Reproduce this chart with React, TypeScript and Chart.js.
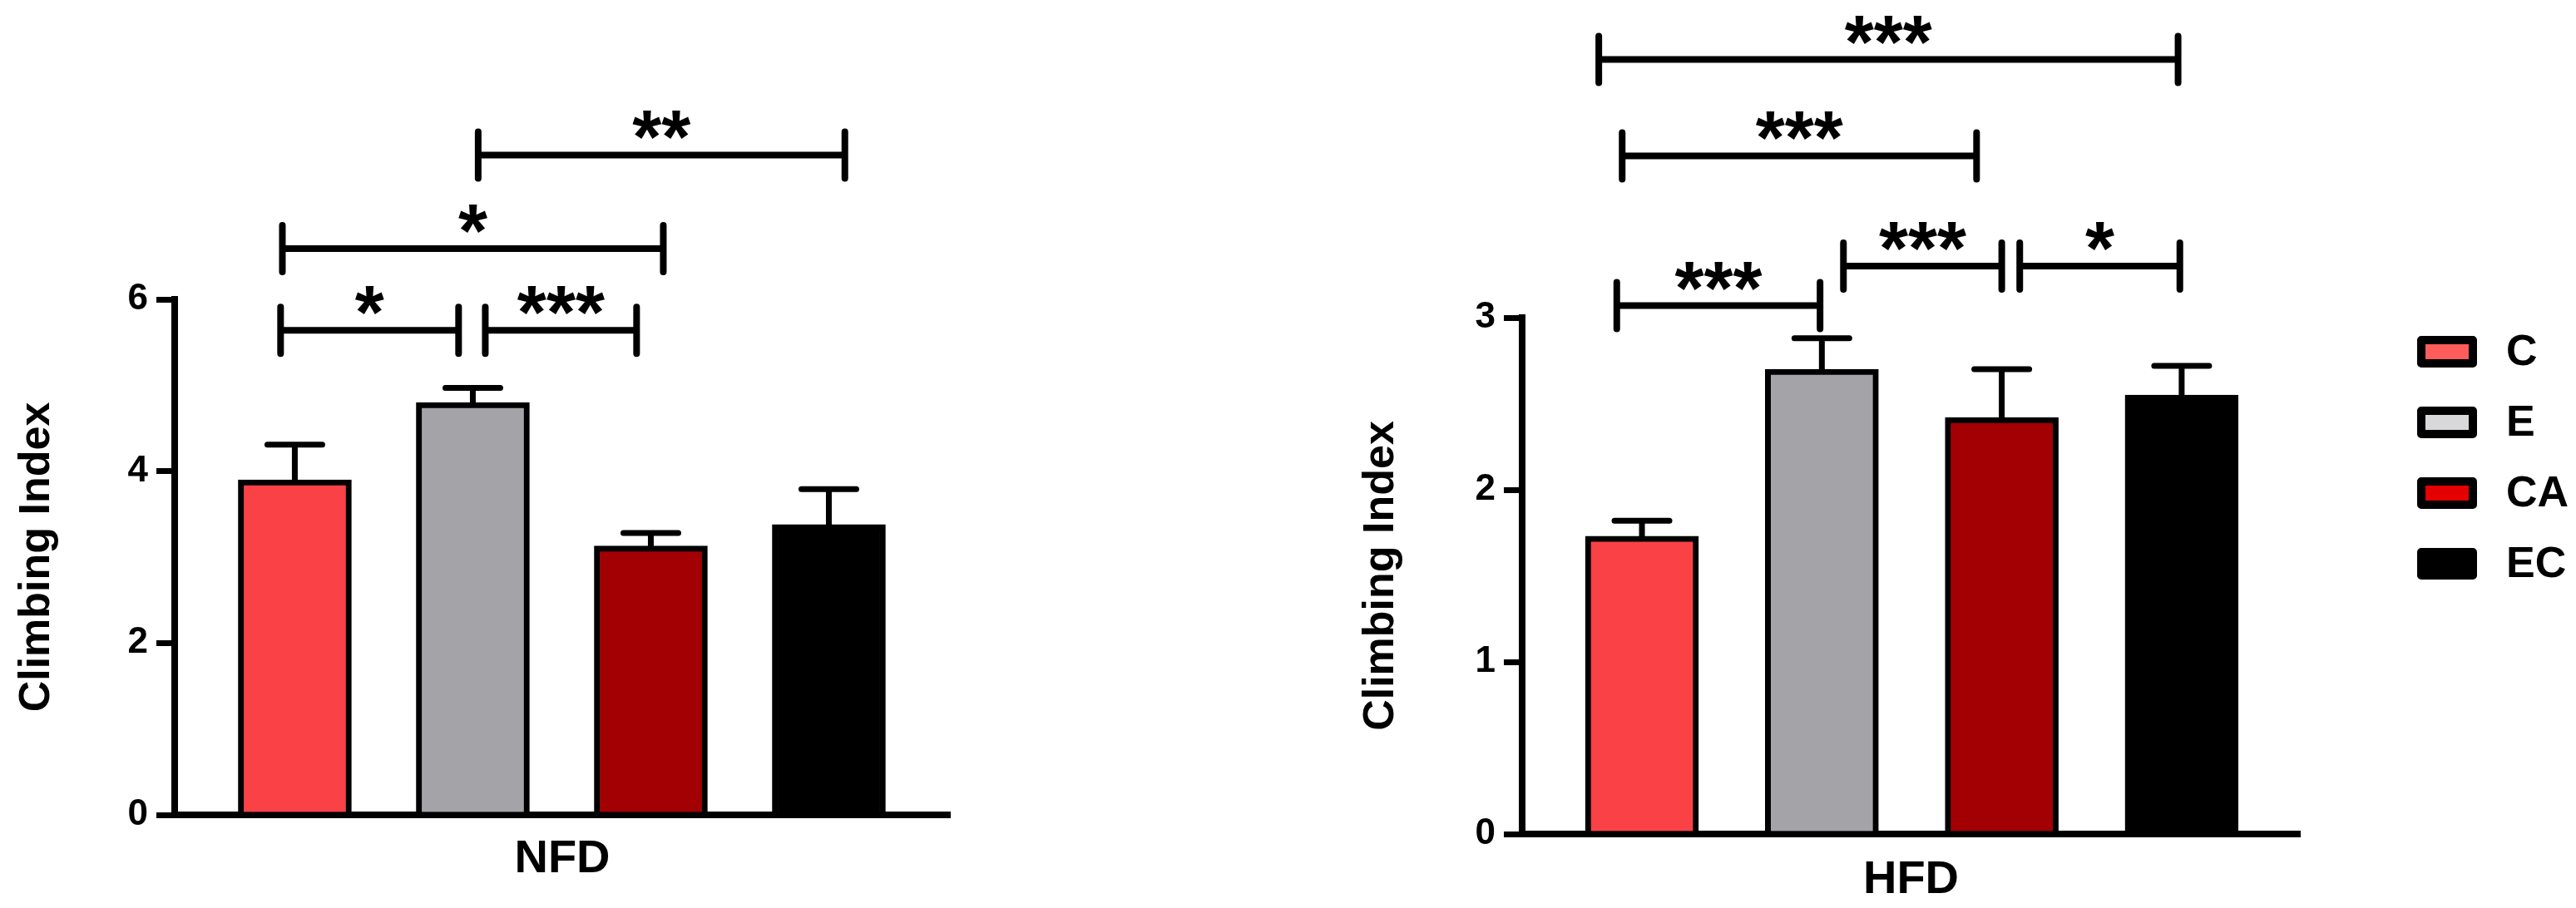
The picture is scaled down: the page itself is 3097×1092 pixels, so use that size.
import React, { useEffect, useRef } from 'react';
import { Chart, registerables } from 'chart.js';

Chart.register(...registerables);

// ---------- data ----------
const groups = ['C', 'E', 'CA', 'EC'];
const barColors = ['#f94146', '#a4a3a8', '#a30003', '#000000'];
const legendColors = ['#ff5c5c', '#d8d8da', '#e40000', '#000000'];

const nfdTitle = 'NFD';
const nfdMeans = [3.9, 4.8, 3.13, 3.38];
const nfdErrors = [0.41, 0.17, 0.15, 0.41];
const nfdTicks = [0, 2, 4, 6];
const nfdBracketStart = [0.92, 2.07, 0.93, 2.03];
const nfdBracketEnd = [1.92, 2.92, 3.07, 4.09];
const nfdBracketLevel = [5.64, 5.64, 6.59, 7.68];
const nfdBracketLabel = ['*', '***', '*', '**'];

const hfdTitle = 'HFD';
const hfdMeans = [1.73, 2.7, 2.42, 2.55];
const hfdErrors = [0.09, 0.18, 0.28, 0.17];
const hfdTicks = [0, 1, 2, 3];
const hfdBracketStart = [0.86, 2.12, 3.1, 0.89, 0.76];
const hfdBracketEnd = [1.99, 3.0, 3.99, 2.86, 3.98];
const hfdBracketLevel = [3.07, 3.3, 3.3, 3.94, 4.5];
const hfdBracketLabel = ['***', '***', '*', '***', '***'];

const yTitle = 'Climbing Index';
const FONT = '"Liberation Sans", Arial, Helvetica, sans-serif';

// ---------- plugins ----------
const errorBarPlugin = {
  id: 'errorBars',
  afterDatasetsDraw(chart: any, _args: any, opts: any) {
    const { ctx } = chart;
    const y = chart.scales.y;
    const meta = chart.getDatasetMeta(0);
    ctx.save();
    ctx.strokeStyle = '#000';
    ctx.lineWidth = 7;
    ctx.lineCap = 'round';
    meta.data.forEach((el: any, i: number) => {
      const top = y.getPixelForValue(opts.means[i] + opts.errors[i]);
      ctx.beginPath();
      ctx.moveTo(el.x, el.y);
      ctx.lineTo(el.x, top);
      ctx.moveTo(el.x - 33, top);
      ctx.lineTo(el.x + 33, top);
      ctx.stroke();
    });
    ctx.restore();
  },
};

const bracketPlugin = {
  id: 'brackets',
  afterDraw(chart: any, _args: any, opts: any) {
    const { ctx } = chart;
    const { x, y } = chart.scales;
    ctx.save();
    ctx.strokeStyle = '#000';
    ctx.fillStyle = '#000';
    ctx.lineWidth = 8;
    ctx.lineCap = 'round';
    ctx.font = `bold 90px ${FONT}`;
    ctx.textAlign = 'center';
    ctx.textBaseline = 'alphabetic';
    opts.start.forEach((s: number, i: number) => {
      const x1 = x.getPixelForValue(s);
      const x2 = x.getPixelForValue(opts.end[i]);
      const yy = y.getPixelForValue(opts.level[i]);
      const h = opts.tick;
      ctx.beginPath();
      ctx.moveTo(x1, yy);
      ctx.lineTo(x2, yy);
      ctx.moveTo(x1, yy - h);
      ctx.lineTo(x1, yy + h);
      ctx.moveTo(x2, yy - h);
      ctx.lineTo(x2, yy + h);
      ctx.stroke();
      ctx.fillText(opts.label[i], (x1 + x2) / 2, yy + 10);
    });
    ctx.restore();
  },
};

const legendPlugin = {
  id: 'sideLegend',
  afterDraw(chart: any, _args: any, opts: any) {
    if (!opts.show) return;
    const { ctx, chartArea } = chart;
    const bx = chartArea.right + 146;
    const bw = 62;
    const bh = 28;
    ctx.save();
    ctx.font = `bold 52px ${FONT}`;
    ctx.textAlign = 'left';
    ctx.textBaseline = 'middle';
    groups.forEach((g, i) => {
      const cy = 423 + i * 85;
      ctx.beginPath();
      ctx.lineJoin = 'round';
      ctx.rect(bx, cy - bh / 2, bw, bh);
      ctx.fillStyle = legendColors[i];
      ctx.fill();
      ctx.lineWidth = 10;
      ctx.strokeStyle = '#000';
      ctx.stroke();
      ctx.fillStyle = '#000';
      ctx.fillText(g, bx + bw + 40, cy + 2);
    });
    ctx.restore();
  },
};

// ---------- chart config ----------
function makeConfig(p: any) {
  return {
    type: 'bar',
    data: {
      datasets: [
        {
          data: p.means.map((m: number, i: number) => ({ x: i + 1, y: m })),
          backgroundColor: barColors,
          borderColor: '#000',
          borderWidth: 7,
          borderSkipped: 'start',
          barThickness: 136,
        },
      ],
    },
    options: {
      responsive: false,
      animation: false,
      devicePixelRatio: 1,
      layout: { padding: p.padding },
      plugins: {
        legend: { display: false },
        tooltip: { enabled: false },
        errorBars: { means: p.means, errors: p.errors },
        brackets: {
          start: p.bStart,
          end: p.bEnd,
          level: p.bLevel,
          label: p.bLabel,
          tick: 28,
        },
        sideLegend: { show: p.legend },
      },
      scales: {
        x: {
          type: 'linear',
          offset: false,
          min: p.xMin,
          max: p.xMax,
          grid: { display: false, offset: false },
          border: { display: true, color: '#000', width: 8 },
          ticks: { display: false },
          title: {
            display: true,
            text: p.xTitle,
            color: '#000',
            font: { family: FONT, size: 56, weight: 'bold' },
            padding: p.xTitlePad,
          },
          afterFit: (s: any) => {
            s.height = p.xHeight;
          },
        },
        y: {
          type: 'linear',
          min: 0,
          max: p.ticks[p.ticks.length - 1],
          afterBuildTicks: (s: any) => {
            s.ticks = p.ticks.map((v: number) => ({ value: v }));
          },
          grid: {
            display: true,
            drawOnChartArea: false,
            drawTicks: true,
            tickLength: 22,
            tickWidth: 7,
            color: '#000',
            lineWidth: 7,
          },
          border: { display: true, color: '#000', width: 8 },
          ticks: {
            color: '#000',
            padding: 10,
            font: { family: FONT, size: 44, weight: 'bold' },
          },
          title: {
            display: true,
            text: yTitle,
            color: '#000',
            font: { family: FONT, size: 52, weight: 'bold' },
          },
          afterFit: (s: any) => {
            s.width = p.yWidth;
          },
        },
      },
    },
    plugins: [errorBarPlugin, bracketPlugin, legendPlugin],
  };
}

function BarPanel(props: any) {
  const ref = useRef<HTMLCanvasElement | null>(null);
  useEffect(() => {
    if (!ref.current) return;
    const chart = new Chart(ref.current, makeConfig(props.cfg) as any);
    return () => chart.destroy();
  }, []);
  return (
    <canvas
      ref={ref}
      width={props.w}
      height={props.h}
      style={{ position: 'absolute', left: props.left, top: 0, width: props.w, height: props.h }}
    />
  );
}

export default function App() {
  const nfdCfg = {
    means: nfdMeans,
    errors: nfdErrors,
    ticks: nfdTicks,
    xTitle: nfdTitle,
    xMin: 0.325,
    xMax: 4.68,
    padding: { left: 9, top: 360, right: 58, bottom: 21 },
    yWidth: 201,
    xHeight: 91,
    xTitlePad: { top: 4, bottom: 4 },
    bStart: nfdBracketStart,
    bEnd: nfdBracketEnd,
    bLevel: nfdBracketLevel,
    bLabel: nfdBracketLabel,
    legend: false,
  };
  const hfdCfg = {
    means: hfdMeans,
    errors: hfdErrors,
    ticks: hfdTicks,
    xTitle: hfdTitle,
    xMin: 0.334,
    xMax: 4.657,
    padding: { left: 25, top: 382, right: 332, bottom: 0 },
    yWidth: 205,
    xHeight: 89,
    xTitlePad: { top: 4, bottom: 0 },
    bStart: hfdBracketStart,
    bEnd: hfdBracketEnd,
    bLevel: hfdBracketLevel,
    bLabel: hfdBracketLabel,
    legend: true,
  };
  return (
    <div
      style={{
        position: 'fixed',
        left: 0,
        top: 0,
        width: 3097,
        height: 1092,
        background: '#fff',
        overflow: 'hidden',
      }}
    >
      <BarPanel cfg={nfdCfg} left={0} w={1200} h={1092} />
      <BarPanel cfg={hfdCfg} left={1600} w={1497} h={1092} />
    </div>
  );
}
